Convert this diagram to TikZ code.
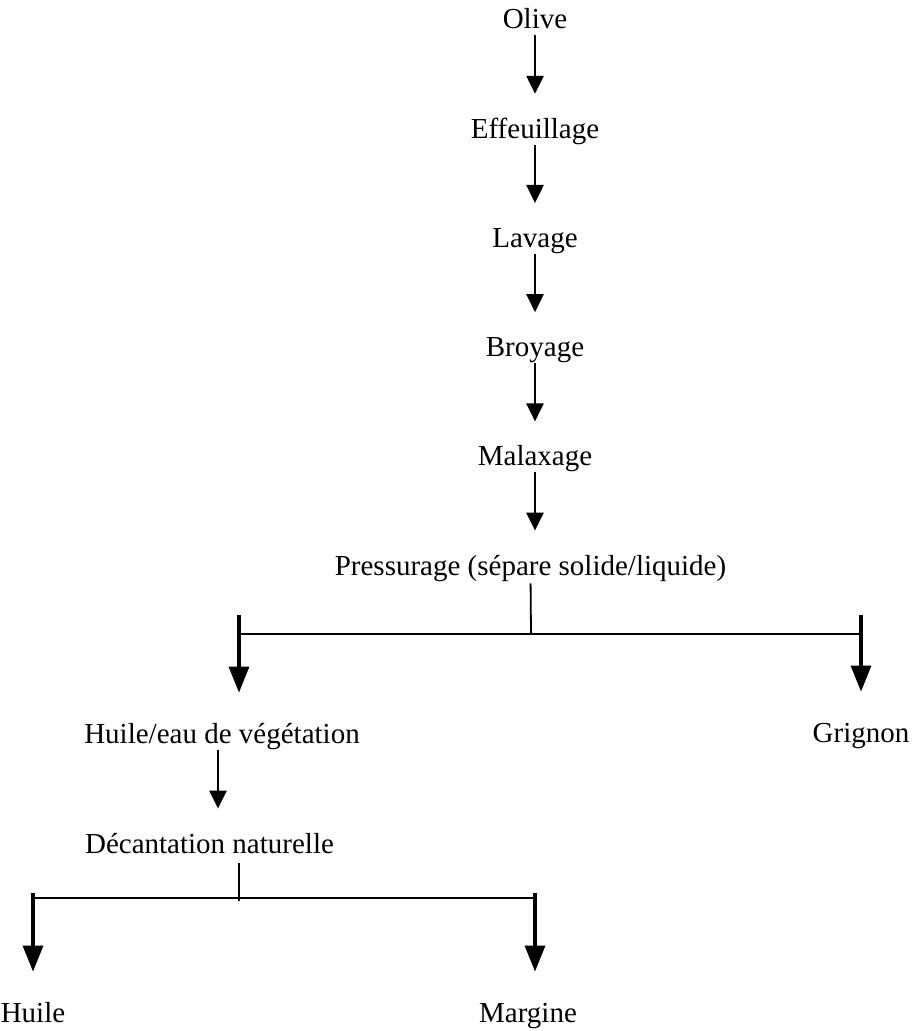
\documentclass[tikz,border=0pt]{standalone}
\usepackage{fontspec}
\setmainfont{Liberation Serif}
\usetikzlibrary{arrows.meta,positioning,calc}

\begin{document}
\begin{tikzpicture}[x=0.5pt, y=-0.5pt,
	every node/.style={font=\fontsize{14.5}{17}\selectfont, inner sep=0pt,
		text height=10pt, text depth=0pt, anchor=base},
	flow/.style={-{Triangle[length=9pt,width=8.5pt]}, line width=1.25pt,
		shorten <=3pt, shorten >=12pt},
	branch/.style={-{Triangle[length=13pt,width=10pt]}, line width=1.6pt,
		shorten >=15pt},
	bar/.style={line width=0.9pt}]
	
	\useasboundingbox (0,0) rectangle (913,1031);
	
	\foreach \t [count=\i] in {Olive, Effeuillage, Lavage, Broyage, Malaxage}
	\node (stage-\i) at (535,{29+(\i-1)*109.2}) {\t};
	
	\node (pressurage) at (530.5,575) {Pressurage (sépare solide/liquide)};
	
	\node (huileeau) at (222,743) {Huile/eau de végétation};
	\node (grignon) at (861,742) {Grignon};
	\node (decantation) at (209.5,853) {Décantation naturelle};
	\node (huile) at (33,1022) {Huile};
	\node (margine) at (528,1022) {Margine};
	
	\foreach \i [evaluate=\i as \j using int(\i+1)] in {1,...,4}
	\draw [flow] (stage-\i.south) -- (stage-\j.north);
	\draw [flow] (stage-5.south) -- (stage-5.south |- pressurage.north);
	
	% pressurage
	\coordinate (split-1) at (531,634);
	\coordinate (p-left) at (239,615);
	\coordinate (p-right) at (861,615);
	\draw [bar, shorten <=4pt] (pressurage.south) -- (split-1);
	\draw [bar] (p-left |- split-1) -- ([xshift=1pt]p-right |- split-1);
	\draw [branch] (p-left) -- (p-left |- huileeau.north);
	\draw [branch] (p-right) -- (p-right |- grignon.north);
	
	\coordinate (h-out) at (218,750);
	\draw [flow, shorten <=0pt] (h-out) -- (h-out |- decantation.north);
	
	% decantation
	\coordinate (split-2) at (239,898);
	\coordinate (d-left) at (33,893);
	\coordinate (d-right) at (535,893);
	\draw [bar] ([yshift=-5pt]split-2 |- decantation.south) -- ([yshift=-1.5pt]split-2);
	\draw [bar] (d-left |- split-2) -- (d-right |- split-2);
	\draw [branch] (d-left) -- (d-left |- huile.north);
	\draw [branch] (d-right) -- (d-right |- margine.north);
	
\end{tikzpicture}
\end{document}
